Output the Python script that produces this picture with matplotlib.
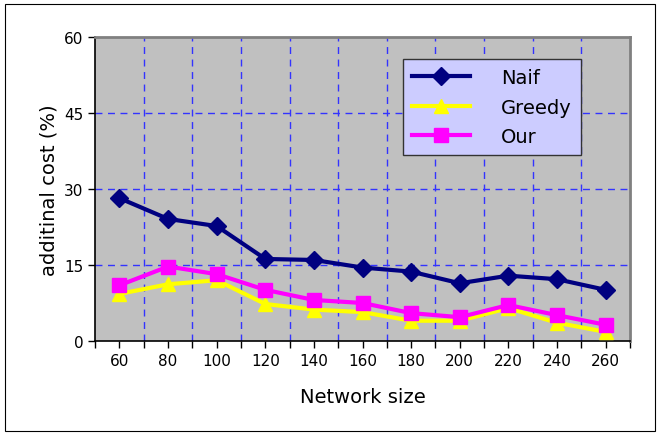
import matplotlib.pyplot as plt
from matplotlib.patches import Rectangle

sizes = [60, 80, 100, 120, 140, 160, 180, 200, 220, 240, 260]
naif = [28.2, 24.1, 22.7, 16.2, 16.0, 14.5, 13.7, 11.4, 12.9, 12.2, 10.1]
greedy = [9.3, 11.2, 12.0, 7.3, 6.2, 5.7, 4.0, 4.0, 6.5, 3.6, 1.8]
our = [11.0, 14.7, 13.2, 10.1, 8.1, 7.5, 5.5, 4.7, 7.1, 5.1, 3.2]
y_ticks = [0, 15, 30, 45, 60]

fig = plt.figure(figsize=(6.61, 4.39), dpi=100)
fig.patches.append(Rectangle((0.008, 0.016), 0.983, 0.972, transform=fig.transFigure,
                             fill=False, edgecolor="black", linewidth=0.8))
ax = fig.add_axes([0.144, 0.221, 0.809, 0.692])
ax.set_facecolor("#C0C0C0")

x = list(range(len(sizes)))
ax.plot(x, naif, color="#000080", lw=3, marker="D", ms=9, label="Naif", zorder=5)
ax.plot(x, greedy, color="#FFFF00", lw=3, marker="^", ms=10, label="Greedy", zorder=3)
ax.plot(x, our, color="#FF00FF", lw=3, marker="s", ms=10, label="Our", zorder=4)

ax.set_xlim(-0.5, len(sizes) - 0.5)
ax.set_ylim(0, 60)
ax.set_yticks(y_ticks)
ax.set_xticks(x)
ax.set_xticklabels([str(s) for s in sizes])
ax.set_xticks([i + 0.5 for i in x[:-1]] + [-0.5, len(sizes) - 0.5], minor=True)

for v in y_ticks[1:-1]:
    ax.axhline(v, color="#3333FF", lw=1, ls=(0, (5, 4)), zorder=1)
for i in x[:-1]:
    ax.axvline(i + 0.5, color="#3333FF", lw=1, ls=(0, (5, 4)), zorder=1)

ax.tick_params(axis="both", labelsize=11, direction="out", length=5, width=1)
ax.tick_params(axis="x", which="minor", length=5, width=1)
for s in ["top", "right"]:
    ax.spines[s].set_color("#808080")
    ax.spines[s].set_linewidth(2)
for s in ["left", "bottom"]:
    ax.spines[s].set_color("black")
    ax.spines[s].set_linewidth(1.2)

ax.set_ylabel("additinal cost (%)", fontsize=14)
ax.set_xlabel("Network size", fontsize=14, labelpad=14)

leg = ax.legend(loc="upper right", bbox_to_anchor=(0.908, 0.928), borderaxespad=0,
                fontsize=14, frameon=True, fancybox=False, handlelength=3.0,
                handletextpad=1.6, borderpad=0.45, labelspacing=0.55)
leg.get_frame().set_facecolor("#CCCCFF")
leg.get_frame().set_edgecolor("#333333")
leg.get_frame().set_alpha(1)

fig.savefig("out.png", dpi=100)
